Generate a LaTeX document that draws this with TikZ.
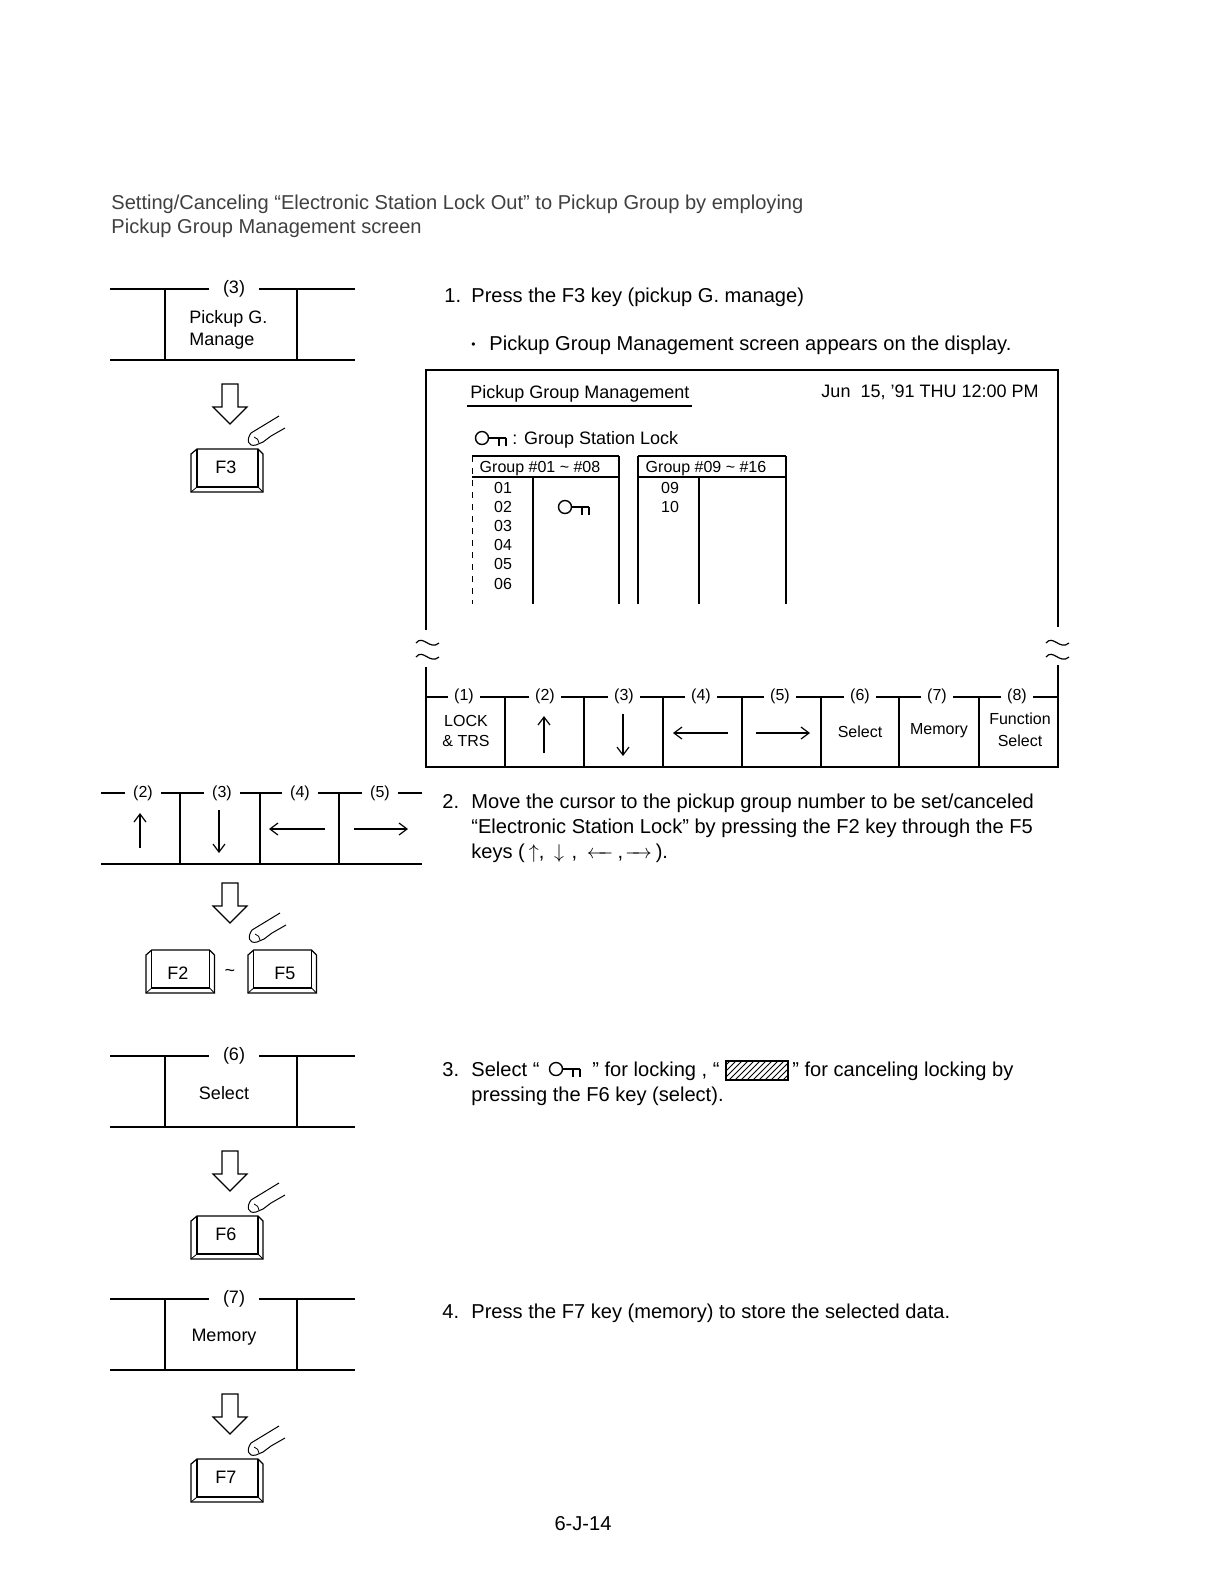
\documentclass[tikz,border=0pt]{standalone}
\usepackage{fontspec}
\setmainfont{Liberation Sans}
\usepackage{tikz}
\usetikzlibrary{arrows.meta,patterns,positioning}
\newcommand{\bodysize}{\fontsize{10.04}{12}\selectfont}
\newcommand{\panelsize}{\fontsize{9}{11}\selectfont}
\newcommand{\stripsize}{\fontsize{8}{10}\selectfont}
\newcommand{\midleft}{\leftarrow\mkern-8mu\relbar}
\newcommand{\midright}{\relbar\mkern-8mu\rightarrow}
\tikzset{
  rule/.style={line width=0.6pt},
  bodytext/.style={anchor=base west, inner sep=0pt, font=\bodysize},
  paneltext/.style={inner sep=0pt, font=\panelsize},
  striptext/.style={inner sep=0pt, font=\stripsize, align=center},
  tabletext/.style={inner sep=0pt, font=\stripsize},
  panelnum/.style={fill=white, inner sep=1pt, inner xsep=7pt, font=\panelsize},
  stripnum/.style={fill=white, inner sep=1pt, inner xsep=3pt, font=\stripsize},
  cursor/.style={line width=0.6pt, -{Straight Barb[length=4pt,width=6pt]}},
  pics/pressarrow/.style={code={
    \draw[rule] (-8,0) -- (8,0) -- (8,23) -- (17,23) -- (0,40) -- (-17,23) -- (-8,23) -- cycle;
  }},
  pics/finger/.style={code={
    \draw[line width=0.5pt] (3,17) -- (31,0);
    \draw[line width=0.5pt] (3,17) .. controls (-2,24) and (0,31) .. (8,29) -- (15,26) -- (23,20) -- (37,12);
    \draw[line width=0.4pt] (6,21) .. controls (9,22) and (11,24) .. (11,27);
  }},
  pics/fkey/.style={code={
    \draw[rule] (0,5) -- (6,0) -- (67,0) -- (72,5) -- (72,43) -- (0,43) -- cycle;
    \draw[rule] (6,0) -- (6,38) -- (67,38) -- (67,0);
    \draw[line width=0.4pt] (0,43) -- (6,38) (72,43) -- (67,38);
  }},
  pics/lockkey/.style={code={
    \draw[line width=0.7pt] (0,0) circle (6.5);
    \draw[line width=0.7pt] (6.5,0) -- (24,0) (17,0) -- (17,8) (24,0) -- (24,8);
  }}
}

\begin{document}
\begin{tikzpicture}[x=0.5pt,y=-0.5pt]
\useasboundingbox (0,0) rectangle (1220,1587);
% heading
\node[bodytext, black!75] (title1) at (111,209) {Setting/Canceling ``Electronic Station Lock Out'' to Pickup Group by employing};
\node[bodytext, black!75] (title2) at (111,233) {Pickup Group Management screen};
% soft key panels on the left
\foreach \nm/\py/\num/\fk in {a/289/3/F3,c/1056/6/F6,d/1299/7/F7} {
  \draw[rule] (110,\py) -- (355,\py) (110,\py+71) -- (355,\py+71);
  \draw[rule] (165,\py) -- (165,\py+71) (297,\py) -- (297,\py+71);
  \node[panelnum] (num\nm) at (234,\py) {(\num)};
  \pic at (230,\py+95) {pressarrow};
  \pic at (248,\py+127) {finger};
  \pic at (191,\py+160) {fkey};
  \node[paneltext] (key\nm) at (226,\py+178) {\fk};
}
\node[paneltext, anchor=base west] (pickup) at (189,323) {Pickup G.};
\node[paneltext, anchor=base west] (manage) at (189,345) {Manage};
\node[paneltext] (selectc) at (224,1093) {Select};
\node[paneltext] (memoryd) at (224,1337) {Memory};
% panel of cursor keys
\draw[rule] (101,793) -- (422,793) (101,864) -- (422,864);
\foreach \x in {180,260,339} {
  \draw[rule] (\x,793) -- (\x,864);
}
\foreach \x/\num in {143/2,222/3,300/4,380/5} {
  \node[panelnum, inner xsep=4pt, font=\stripsize] (numb\num) at (\x,793) {(\num)};
}
\draw[cursor] (140,848) -- (140,813);
\draw[cursor] (219,810) -- (219,853);
\draw[cursor] (325,829) -- (269,829);
\draw[cursor] (354,829) -- (408,829);
\pic at (230,883) {pressarrow};
\pic at (249,913) {finger};
\pic[xscale=0.95] at (146,950) {fkey};
\pic[xscale=0.95] at (248,950) {fkey};
\node[paneltext] (keyF2) at (178,973) {F2};
\node[paneltext] (tilde) at (230,973) {\textasciitilde};
\node[paneltext] (keyF5) at (285,973) {F5};
% steps
\node[bodytext] (step1) at (444,302) {1.};
\node[bodytext] (step1a) at (471,302) {Press the F3 key (pickup G. manage)};
\node[bodytext, font=\fontsize{6}{6}\selectfont] (bullet) at (471,348) {\textbullet};
\node[bodytext] (step1b) at (489,350) {Pickup Group Management screen appears on the display.};
\node[bodytext] (step2) at (442,808) {2.};
\node[bodytext] (step2a) at (471,808) {Move the cursor to the pickup group number to be set/canceled};
\node[bodytext] (step2b) at (471,833) {``Electronic Station Lock'' by pressing the F2 key through the F5};
\node[bodytext] (step2c) at (471,858) {keys (\hspace{2pt}$\uparrow$,\hspace{2pt} $\downarrow$\hspace{1pt} ,\hspace{2pt} $\midleft$\hspace{2pt},\hspace{1pt}$\midright$\hspace{2pt}).};
\node[bodytext] (step3) at (442,1076) {3.};
\node[bodytext] (step3a) at (471,1076) {Select ``};
\pic at (556,1069) {lockkey};
\node[bodytext] (step3b) at (592,1076) {'' for locking , ``};
\draw[pattern=north east lines, line width=0.8pt] (726,1061) rectangle (788,1080);
\node[bodytext] (step3c) at (792,1076) {'' for canceling locking by};
\node[bodytext] (step3d) at (471,1101) {pressing the F6 key (select).};
\node[bodytext] (step4) at (442,1318) {4.};
\node[bodytext] (step4a) at (471,1318) {Press the F7 key (memory) to store the selected data.};
\node[bodytext, anchor=base] (pageno) at (583,1530) {6-J-14};
% display frame
\draw[rule] (426,630) -- (426,370) -- (1058,370) -- (1058,627);
\draw[rule] (426,667) -- (426,767) -- (1058,767) -- (1058,665);
\foreach \x in {416,1046} {
  \foreach \y in {643,657} {
    \draw[rule] (\x,\y) .. controls (\x+7,\y-9) and (\x+14,\y+8) .. (\x+23,\y);
  }
}
\node[paneltext, anchor=base west] (dsptitle) at (470,398) {Pickup Group Management};
\draw[line width=0.8pt] (467,406) -- (692,406);
\node[paneltext, anchor=base east] (dspdate) at (1039,397) {Jun~~15, '91 THU 12:00 PM};
\pic at (482,438) {lockkey};
\node[paneltext, anchor=base west] (dsplegend) at (512,444) {: Group Station Lock};
% group tables
\foreach \tl/\tc/\tr/\nm in {472/533/619/one,638/699/786/two} {
  \draw[rule] (\tl,456) -- (\tr,456) (\tl,477) -- (\tr,477);
  \draw[rule] (\tc,477) -- (\tc,604);
}
\draw[line width=0.4pt, dashed] (472,456) -- (472,604);
\draw[rule] (619,456) -- (619,604);
\draw[rule] (638,456) -- (638,604);
\draw[rule] (786,456) -- (786,604);
\node[tabletext] (headone) at (540,469) {Group \#01 \textasciitilde\ \#08};
\node[tabletext] (headtwo) at (706,469) {Group \#09 \textasciitilde\ \#16};
\foreach \y/\r in {488/01,507/02,526/03,545/04,564/05,584/06} {
  \node[tabletext] (rowone\r) at (503,\y) {\r};
}
\foreach \y/\r in {488/09,507/10} {
  \node[tabletext] (rowtwo\r) at (670,\y) {\r};
}
\pic at (565,507) {lockkey};
% function key strip
\draw[rule] (426,697) -- (1058,697);
\foreach \x in {505,584,663,742,821,899,979} {
  \draw[rule] (\x,697) -- (\x,767);
}
\foreach \x/\num in {464/1,545/2,624/3,701/4,780/5,860/6,937/7,1017/8} {
  \node[stripnum] (numf\num) at (\x,696) {(\num)};
}
\node[striptext] (fone) at (466,731) {LOCK\\\& TRS};
\draw[cursor] (544,753) -- (544,716);
\draw[cursor] (623,714) -- (623,756);
\draw[cursor] (728,733) -- (673,733);
\draw[cursor] (756,733) -- (810,733);
\node[striptext] (fsix) at (860,732) {Select};
\node[striptext] (fseven) at (939,731) {Memory};
\node[striptext] (feight) at (1020,730) {Function\\[1pt]Select};
\end{tikzpicture}
\end{document}
